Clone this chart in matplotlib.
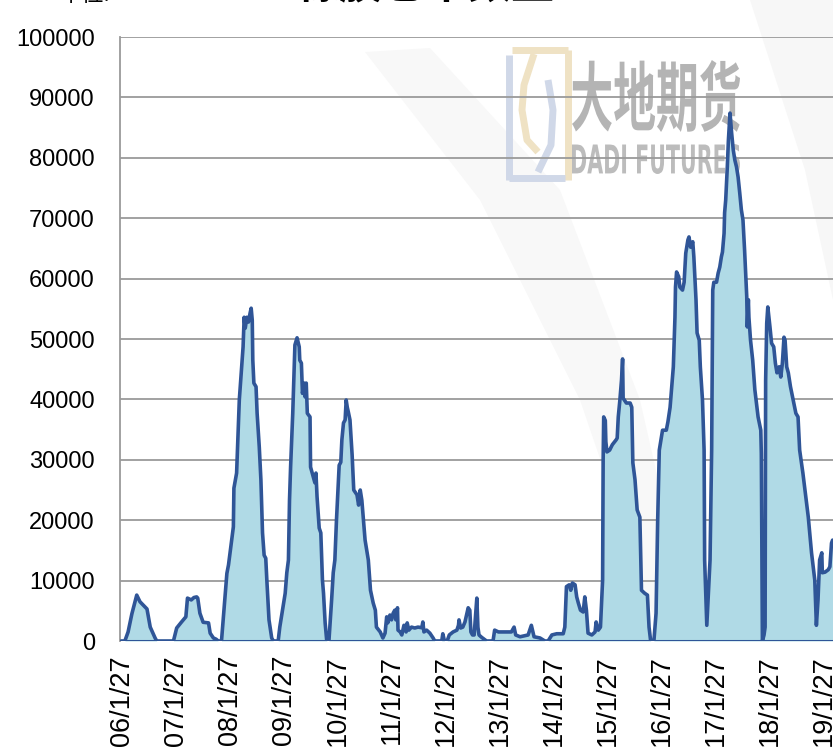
import matplotlib
matplotlib.use("Agg")
import numpy as np
import matplotlib.pyplot as plt
from matplotlib.lines import Line2D
from matplotlib.patches import PathPatch, Polygon
from matplotlib.textpath import TextPath
from matplotlib.font_manager import FontProperties
from matplotlib.transforms import Affine2D

# warehouse receipt data (decimal year, tons)
dates = [
    2006.08, 2006.13, 2006.19, 2006.26, 2006.35, 2006.41, 2006.54, 2006.60, 2006.69, 2006.72,
    2007.03, 2007.09, 2007.18, 2007.26, 2007.29, 2007.36, 2007.41, 2007.46, 2007.48, 2007.52,
    2007.58, 2007.68, 2007.71, 2007.77, 2007.82, 2007.86, 2007.92,
    2008.02, 2008.05, 2008.14, 2008.15, 2008.20, 2008.22, 2008.25, 2008.29, 2008.32, 2008.34,
    2008.36, 2008.39, 2008.42, 2008.45, 2008.47, 2008.49, 2008.50, 2008.52, 2008.56, 2008.58,
    2008.62, 2008.65, 2008.68, 2008.71, 2008.74, 2008.76, 2008.80, 2008.85, 2008.88, 2008.97,
    2009.00, 2009.05, 2009.10, 2009.13, 2009.16, 2009.18, 2009.20, 2009.24, 2009.28, 2009.32,
    2009.36, 2009.37, 2009.40, 2009.42, 2009.45, 2009.47, 2009.49, 2009.51, 2009.56, 2009.57,
    2009.62, 2009.65, 2009.67, 2009.69, 2009.73, 2009.76, 2009.79, 2009.81, 2009.84, 2009.87,
    2009.91, 2009.96, 2009.99,
    2010.02, 2010.05, 2010.10, 2010.13, 2010.15, 2010.18, 2010.21, 2010.23, 2010.25, 2010.27,
    2010.30, 2010.34, 2010.37, 2010.43, 2010.46, 2010.49, 2010.52, 2010.58, 2010.64, 2010.68,
    2010.73, 2010.77, 2010.79, 2010.86, 2010.91, 2010.95, 2010.98,
    2011.00, 2011.04, 2011.07, 2011.10, 2011.13, 2011.15, 2011.18, 2011.19, 2011.23, 2011.26,
    2011.30, 2011.34, 2011.36, 2011.39, 2011.44, 2011.50, 2011.56, 2011.63, 2011.65, 2011.67,
    2011.72, 2011.78, 2011.84, 2011.87,
    2012.00, 2012.02, 2012.05, 2012.10, 2012.14, 2012.21, 2012.28, 2012.31, 2012.32, 2012.35,
    2012.39, 2012.43, 2012.46, 2012.49, 2012.52, 2012.54, 2012.57, 2012.60, 2012.62, 2012.65,
    2012.67, 2012.69, 2012.74, 2012.83, 2012.95, 2012.98,
    2013.05, 2013.29, 2013.34, 2013.37, 2013.45, 2013.60, 2013.66, 2013.71, 2013.82, 2013.91,
    2013.97,
    2014.04, 2014.13, 2014.25, 2014.28, 2014.31, 2014.36, 2014.39, 2014.42, 2014.47, 2014.50,
    2014.53, 2014.57, 2014.62, 2014.65, 2014.68, 2014.71, 2014.78, 2014.84, 2014.86, 2014.90,
    2014.94, 2014.98, 2014.99,
    2015.00, 2015.03, 2015.04, 2015.06, 2015.11, 2015.16, 2015.23, 2015.25, 2015.27, 2015.30,
    2015.33, 2015.35, 2015.36, 2015.42, 2015.49, 2015.52, 2015.54, 2015.58, 2015.62, 2015.67,
    2015.70, 2015.76, 2015.81, 2015.84, 2015.87, 2015.93, 2015.97,
    2016.00, 2016.03, 2016.09, 2016.16, 2016.19, 2016.23, 2016.26, 2016.29, 2016.32, 2016.33,
    2016.35, 2016.39, 2016.41, 2016.46, 2016.49, 2016.52, 2016.56, 2016.58, 2016.61, 2016.65,
    2016.67, 2016.71, 2016.73, 2016.77, 2016.79, 2016.83, 2016.86, 2016.87, 2016.91, 2016.94,
    2016.97,
    2017.00, 2017.02, 2017.04, 2017.09, 2017.12, 2017.15, 2017.18, 2017.20, 2017.23, 2017.24,
    2017.26, 2017.29, 2017.31, 2017.34, 2017.37, 2017.40, 2017.43, 2017.46, 2017.49, 2017.52,
    2017.55, 2017.58, 2017.61, 2017.65, 2017.66, 2017.68, 2017.69, 2017.72, 2017.76, 2017.80,
    2017.86, 2017.91, 2017.92, 2017.94, 2017.97, 2017.99,
    2018.00, 2018.02, 2018.04, 2018.08, 2018.11, 2018.15, 2018.18, 2018.21, 2018.25, 2018.28,
    2018.31, 2018.34, 2018.36, 2018.39, 2018.42, 2018.46, 2018.51, 2018.56, 2018.60, 2018.63,
    2018.69, 2018.79, 2018.85, 2018.91, 2018.94, 2018.97,
    2019.00, 2019.04, 2019.05, 2019.10, 2019.16, 2019.19, 2019.22, 2019.24, 2019.28,
]
receipts = [
    0, 0, 1500, 4500, 7600, 6500, 5300, 2300, 500, 0,
    0, 2150, 3150, 4000, 7100, 6800, 7200, 7300, 7100, 4600,
    3100, 3000, 1300, 500, 300, 0, 0,
    11200, 12600, 18900, 25300, 27800, 32800, 39900, 44900, 48700, 53600,
    51800, 53600, 52800, 54300, 55100, 53100, 46500, 42700, 42100, 37700,
    32100, 26700, 17900, 14200, 13700, 10100, 3500, 500, 0, 0,
    2300, 5100, 7900, 11300, 13400, 23300, 28800, 37700, 49000, 50200,
    48700, 46500, 46000, 41000, 42700, 40400, 42700, 37700, 37100, 28800,
    27200, 26200, 27800, 23900, 18700, 17900, 10100, 7900, 3000, 0,
    0, 6800, 11300,
    13400, 20000, 29100, 29600, 33300, 36100, 36600, 39900, 38700, 37900,
    36600, 30800, 25000, 24200, 22500, 25000, 23300, 16700, 13400, 8400,
    6300, 5100, 2300, 1500, 500, 1300, 4000,
    3000, 4300, 3500, 4600, 5100, 3500, 5500, 1800, 1500, 1000,
    2600, 1500, 3000, 1800, 2300, 2150, 2300, 2200, 3150, 1500,
    1800, 1300, 500, 0,
    0, 1200, 0, 0, 1000, 1500, 1800, 2600, 3500, 2150,
    2300, 3150, 4300, 5500, 5100, 1500, 1000, 1000, 3500, 7100,
    2300, 1000, 600, 0, 0, 1800,
    1500, 1500, 2300, 1000, 700, 1000, 2600, 700, 500, 0,
    0,
    1000, 1200, 1200, 2300, 9000, 9300, 8400, 9600, 9300, 7300,
    6300, 5100, 4800, 7300, 5100, 1300, 1000, 1500, 3150, 1800,
    2300, 10100, 30000,
    37100, 36500, 33000, 31300, 31600, 32500, 33300, 33600, 37100, 39900,
    43200, 46700, 40200, 39400, 39400, 38700, 29500, 26700, 21700, 20500,
    8400, 7900, 7600, 2300, 0, 0, 4600,
    20000, 31600, 34900, 34900, 36300, 38700, 42100, 45400, 53600, 58600,
    61100, 60300, 58600, 58100, 59400, 64200, 66400, 66900, 65200, 66100,
    63600, 56500, 51000, 49800, 45400, 39900, 31600, 13400, 2600, 7900,
    13400,
    31600, 58100, 59400, 59400, 60900, 61900, 63600, 64400, 67500, 70900,
    73000, 78500, 82900, 87400, 84100, 81300, 79600, 78500, 76800, 74200,
    71400, 69700, 64700, 57000, 52000, 56500, 53600, 49800, 46500, 41600,
    37100, 34900, 31000, 0, 1000, 2300,
    43200, 52600, 55300, 52000, 49300, 48700, 46000, 44400, 45400, 43700,
    46000, 50300, 49800, 45400, 44400, 42100, 39900, 37700, 37100, 31600,
    27800, 20500, 14600, 10100, 2600, 6800,
    13400, 14600, 11300, 11400, 11800, 12300, 16200, 16700, 16500,
]

tick_years = list(range(2006, 2020))
tick_labels = ["%02d/1/27" % (y % 100) for y in tick_years]
tick_pos = [y + 26 / 365 for y in tick_years]
y_ticks = list(range(0, 100001, 10000))

W, H = 833, 747
fig = plt.figure(figsize=(W / 100, H / 100), dpi=100)


def fx(px):
    return px / W


def fy(py):
    return 1 - py / H


# faint background swoosh of the watermark
band = Polygon([(fx(365), fy(52)), (fx(430), fy(48)), (fx(560), fy(190)), (fx(640), fy(400)),
                (fx(690), fy(620)), (fx(655), fy(620)), (fx(580), fy(400)), (fx(480), fy(200))],
               closed=True, transform=fig.transFigure, fc="#f8f8f8", ec="none", zorder=-3)
fig.patches.append(band)
arc = Polygon([(fx(750), fy(0)), (fx(833), fy(0)), (fx(833), fy(300)), (fx(805), fy(170))],
              closed=True, transform=fig.transFigure, fc="#f7f7f7", ec="none", zorder=-3)
fig.patches.append(arc)


def stretched_text(s, box, family, color):
    tp = TextPath((0, 0), s, size=10, prop=FontProperties(family=family, weight="bold"))
    ext = tp.get_extents()
    x0, y0, x1, y1 = box
    tr = (Affine2D().translate(-ext.x0, -ext.y0)
          .scale((x1 - x0) / ext.width / W, (y1 - y0) / ext.height / H)
          .translate(fx(x0), fy(y1)) + fig.transFigure)
    fig.patches.append(PathPatch(tp, transform=tr, fc=color, ec="none", zorder=-2))


stretched_text("大地期货", (572, 60, 740, 132), "Noto Sans CJK SC", "#b4b4b4")
stretched_text("DADI FUTURES", (572, 144, 740, 174), "DejaVu Sans", "#bcbcbc")

# logo outline
beige = "#efe2c4"
blue = "#d0d8e8"
for xs, ys, c in [
    ([512, 568], [50, 50], beige),
    ([568, 568], [50, 180], beige),
    ([534, 524, 522, 527, 538], [54, 85, 110, 140, 152], beige),
    ([509, 509], [55, 180], blue),
    ([509, 565], [178, 178], blue),
    ([548, 553, 551, 538], [80, 110, 145, 172], blue),
]:
    fig.add_artist(Line2D([fx(v) for v in xs], [fy(v) for v in ys], transform=fig.transFigure,
                          color=c, lw=5, solid_capstyle="butt", zorder=-2))

ax = fig.add_axes([fx(120), 106 / H, 725 / W, 604 / H])
ax.patch.set_alpha(0)

ax.fill_between(dates, receipts, 0, color="#b0dae6", lw=0, zorder=2)
ax.plot(dates, receipts, color="#2f5597", lw=2.6, zorder=3)
ax.axhline(0, color="#2f5597", lw=2.2, zorder=3)

ax.set_xlim(2006.04, 2019.47)
ax.set_ylim(0, 100000)
ax.set_yticks(y_ticks)
ax.set_yticklabels([str(v) for v in y_ticks])
ax.set_xticks(tick_pos)
ax.set_xticklabels(tick_labels, rotation=90, ha="center", va="top")
ax.grid(axis="y", color="#9a9a9a", lw=1.3, zorder=1)
ax.set_axisbelow(True)

for side in ["top", "right", "bottom"]:
    ax.spines[side].set_visible(False)
ax.spines["left"].set_color("#9a9a9a")
ax.spines["left"].set_linewidth(1.3)
ax.tick_params(axis="y", length=0, pad=18, labelsize=17)
ax.tick_params(axis="x", length=0, pad=10, labelsize=19.5)
for lab in ax.get_xticklabels() + ax.get_yticklabels():
    lab.set_fontfamily("Liberation Sans")

# title strip, cut off by the top edge as in the source
fig.text(fx(60), 0.9915, "单位:", fontsize=16, family=["Noto Sans CJK SC", "DejaVu Sans"],
         va="bottom", ha="left")
fig.text(fx(425), 0.9915, "橡胶仓单数量", fontsize=31, fontweight="bold",
         family=["Noto Sans CJK SC", "DejaVu Sans"], va="bottom", ha="center")

fig.savefig("out.png", dpi=100)
